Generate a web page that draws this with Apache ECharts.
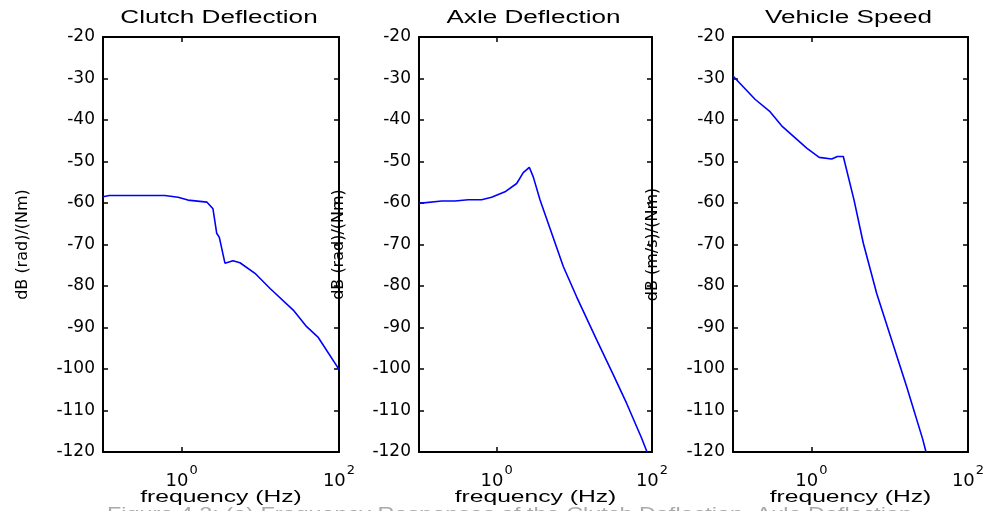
<!DOCTYPE html>
<html>
<head>
<meta charset="utf-8">
<script src="https://cdn.jsdelivr.net/npm/echarts@6/dist/echarts.min.js"></script>
<style>
  html, body { margin: 0; padding: 0; background: #fff; }
  #chart { width: 990px; height: 511px; }
</style>
</head>
<body>
<div id="chart"></div>
<script>
// panel titles and y labels
const titles = ['Clutch Deflection', 'Axle Deflection', 'Vehicle Speed'];
const yNames = ['dB (rad)/(Nm)', 'dB (rad)/(Nm)', 'dB (m/s)/(Nm)'];
const xName = 'frequency (Hz)';
const xTicks = [1, 100];

// (Hz, dB)
const clutchFreq = [0.1, 0.12, 0.3, 0.61, 0.9, 1.2, 2.1, 2.5, 2.79, 3.01, 3.55, 4.49, 5.51, 8.73, 13.3, 26.2, 38.8, 54.5, 100];
const clutchDb = [-58.5, -58.2, -58.2, -58.2, -58.6, -59.3, -59.8, -61.4, -67.3, -68.3, -74.5, -73.9, -74.4, -77.1, -80.6, -85.8, -89.8, -92.4, -100.1];

const axleFreq = [0.1, 0.196, 0.29, 0.43, 0.64, 0.86, 1.28, 1.81, 2.2, 2.63, 2.96, 3.62, 5.11, 7.21, 10.7, 19.4, 31.8, 47.2, 73.6, 86.3];
const axleDb = [-60.1, -59.5, -59.5, -59.2, -59.2, -58.6, -57.3, -55.3, -52.7, -51.4, -53.7, -59.3, -67.3, -75.3, -82.6, -93.0, -101.4, -108.3, -116.7, -120];

const speedFreq = [0.1, 0.191, 0.297, 0.418, 0.873, 1.26, 1.82, 2.15, 2.56, 3.51, 4.61, 6.83, 10.6, 16.5, 26.4, 29.1];
const speedDb = [-29.4, -35.0, -38.0, -41.4, -46.8, -49.0, -49.4, -48.8, -48.8, -59.3, -69.7, -81.8, -93.0, -104.3, -116.9, -120];

const caption = 'Figure 4.2: (a) Frequency Responses of the Clutch Deflection, Axle Deflection,';

const curves = [
  [clutchFreq, clutchDb],
  [axleFreq, axleDb],
  [speedFreq, speedDb],
];

const font = 'Liberation Sans, Arial, sans-serif';
const tickFont = 'DejaVu Sans, sans-serif';
const lefts = [103, 419, 733];
const widths = [236, 233, 235];
const gridTop = 37;
const gridHeight = 415;

const grids = [];
const xAxes = [];
const yAxes = [];
const series = [];
const texts = [];

function xLabel(v) {
  if (Math.abs(v - 1) < 1e-9) return '{b|10}{s|0}';
  if (Math.abs(v - 100) < 1e-6) return '{b|10}{s|2}';
  return '';
}

curves.forEach((c, i) => {
  const mid = lefts[i] + widths[i] / 2;
  grids.push({ left: lefts[i], width: widths[i], top: gridTop, height: gridHeight });
  const common = {
    type: 'log',
    logBase: 10,
    min: 0.1,
    max: 100,
    gridIndex: i,
    axisLine: { show: true, lineStyle: { color: '#000', width: 2 } },
    splitLine: { show: false },
    minorTick: { show: false },
    axisTick: { show: true, inside: true, length: 5, customValues: xTicks, lineStyle: { color: '#000', width: 1.5 } },
  };
  xAxes.push(Object.assign({}, common, {
    position: 'bottom',
    axisLabel: {
      show: true,
      customValues: xTicks,
      margin: 12,
      formatter: xLabel,
      rich: {
        b: { fontFamily: tickFont, fontSize: 18, color: '#000', padding: [8, 0, 0, 0] },
        s: { fontFamily: tickFont, fontSize: 13, color: '#000', verticalAlign: 'top', padding: [0, 0, 10, 1] },
      },
    },
  }));
  xAxes.push(Object.assign({}, common, {
    position: 'top',
    axisLabel: { show: false },
  }));
  const yCommon = {
    type: 'value',
    min: -120,
    max: -20,
    interval: 10,
    gridIndex: i,
    axisLine: { show: true, lineStyle: { color: '#000', width: 2 } },
    splitLine: { show: false },
    axisTick: { show: true, inside: true, length: 5, lineStyle: { color: '#000', width: 1.5 } },
  };
  yAxes.push(Object.assign({}, yCommon, {
    position: 'left',
    name: yNames[i],
    nameLocation: 'middle',
    nameGap: 72,
    nameRotate: 90,
    nameTextStyle: { fontFamily: tickFont, fontSize: 16, color: '#000' },
    axisLabel: { show: true, margin: 8, fontFamily: tickFont, fontSize: 17, color: '#000' },
  }));
  yAxes.push(Object.assign({}, yCommon, {
    position: 'right',
    axisLabel: { show: false },
  }));
  series.push({
    type: 'line',
    xAxisIndex: i * 2,
    yAxisIndex: i * 2,
    data: c[0].map((f, k) => [f, c[1][k]]),
    showSymbol: false,
    symbol: 'none',
    lineStyle: { color: '#0000ff', width: 1.6 },
    clip: true,
    silent: true,
    animation: false,
  });
  // titles and x names are stretched sideways in the source figure
  texts.push({
    type: 'text', x: mid - 2, y: 18, scaleX: 1.45,
    style: { text: titles[i], fontFamily: font, fontSize: 18, fill: '#000', align: 'center', verticalAlign: 'middle' },
  });
  texts.push({
    type: 'text', x: mid, y: 497, scaleX: 1.45, z: 50,
    style: { text: xName, fontFamily: font, fontSize: 17, fill: '#000', align: 'center', verticalAlign: 'middle' },
  });
});

texts.push({ type: 'rect', x: 0, y: 505, shape: { width: 990, height: 8 }, style: { fill: '#fff' }, z: 100 });
texts.push({
  type: 'text', x: 107, y: 506, scaleX: 1.3, z: 101,
  style: { text: caption, fontFamily: font, fontSize: 18, fill: '#aaa', align: 'left', verticalAlign: 'top' },
});

const chart = echarts.init(document.getElementById('chart'), null, { renderer: 'canvas' });
chart.setOption({
  animation: false,
  backgroundColor: '#fff',
  grid: grids,
  xAxis: xAxes,
  yAxis: yAxes,
  series,
  graphic: texts,
});
</script>
</body>
</html>
